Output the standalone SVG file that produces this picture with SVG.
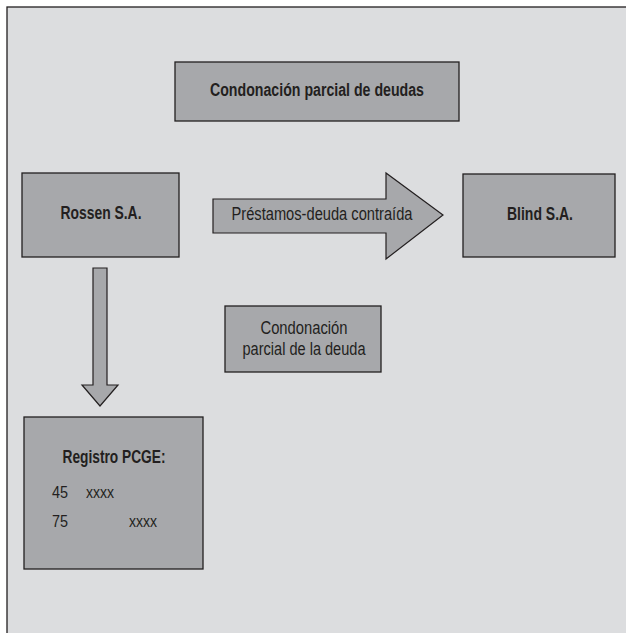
<svg xmlns="http://www.w3.org/2000/svg" width="626" height="633" viewBox="0 0 626 633">
<style>
.box{fill:#a7a8ab;stroke:#231f20;stroke-width:1.3}
.arr{fill:#a7a8ab;stroke:#231f20;stroke-width:1.2;stroke-linejoin:miter}
.b{font-family:"Liberation Sans",Arial,sans-serif;font-weight:bold;font-size:17.5px;fill:#231f20;text-anchor:middle}
.r{font-family:"Liberation Sans",Arial,sans-serif;font-size:17.5px;fill:#231f20;text-anchor:middle}
.s{font-family:"Liberation Sans",Arial,sans-serif;font-size:16px;fill:#231f20}
</style>
<rect x="0" y="0" width="626" height="633" fill="#ffffff"/>
<rect x="7" y="7" width="630" height="640" fill="#dcdddf" stroke="#231f20" stroke-width="1.3"/>
<g id="titulo">
<rect class="box" x="175" y="62" width="284" height="59"/>
<text class="b" x="317" y="96" textLength="214" lengthAdjust="spacingAndGlyphs">Condonación parcial de deudas</text>
</g>
<g id="rossen">
<rect class="box" x="22" y="173" width="157" height="84"/>
<text class="b" x="101" y="219" textLength="81" lengthAdjust="spacingAndGlyphs">Rossen S.A.</text>
</g>
<g id="blind">
<rect class="box" x="463" y="174" width="152" height="83"/>
<text class="b" x="540" y="220" textLength="66" lengthAdjust="spacingAndGlyphs">Blind S.A.</text>
</g>
<g id="condonacion">
<rect class="box" x="225" y="306" width="156" height="66"/>
<text class="r" x="304" y="334" textLength="87" lengthAdjust="spacingAndGlyphs">Condonación</text>
<text class="r" x="304" y="355" textLength="123" lengthAdjust="spacingAndGlyphs">parcial de la deuda</text>
</g>
<g id="registro">
<rect class="box" x="24" y="417" width="179" height="152"/>
<text class="b" x="114" y="463" textLength="103" lengthAdjust="spacingAndGlyphs">Registro PCGE:</text>
<text class="s" x="52" y="498" textLength="16" lengthAdjust="spacingAndGlyphs">45</text>
<text class="s" x="86" y="498" textLength="28" lengthAdjust="spacingAndGlyphs">xxxx</text>
<text class="s" x="52" y="527" textLength="16" lengthAdjust="spacingAndGlyphs">75</text>
<text class="s" x="129" y="527" textLength="28" lengthAdjust="spacingAndGlyphs">xxxx</text>
</g>
<g id="conectores">
<g id="flecha-prestamos">
<polygon class="arr" points="213,199 386,199 386,173 443,215 386,259 386,233 213,233"/>
<text class="r" x="322" y="220" textLength="181" lengthAdjust="spacingAndGlyphs">Préstamos-deuda contraída</text>
</g>
<polygon class="arr" points="93,268 107,268 107,385 118,385 100,406 82,385 93,385"/>
</g>
</svg>
